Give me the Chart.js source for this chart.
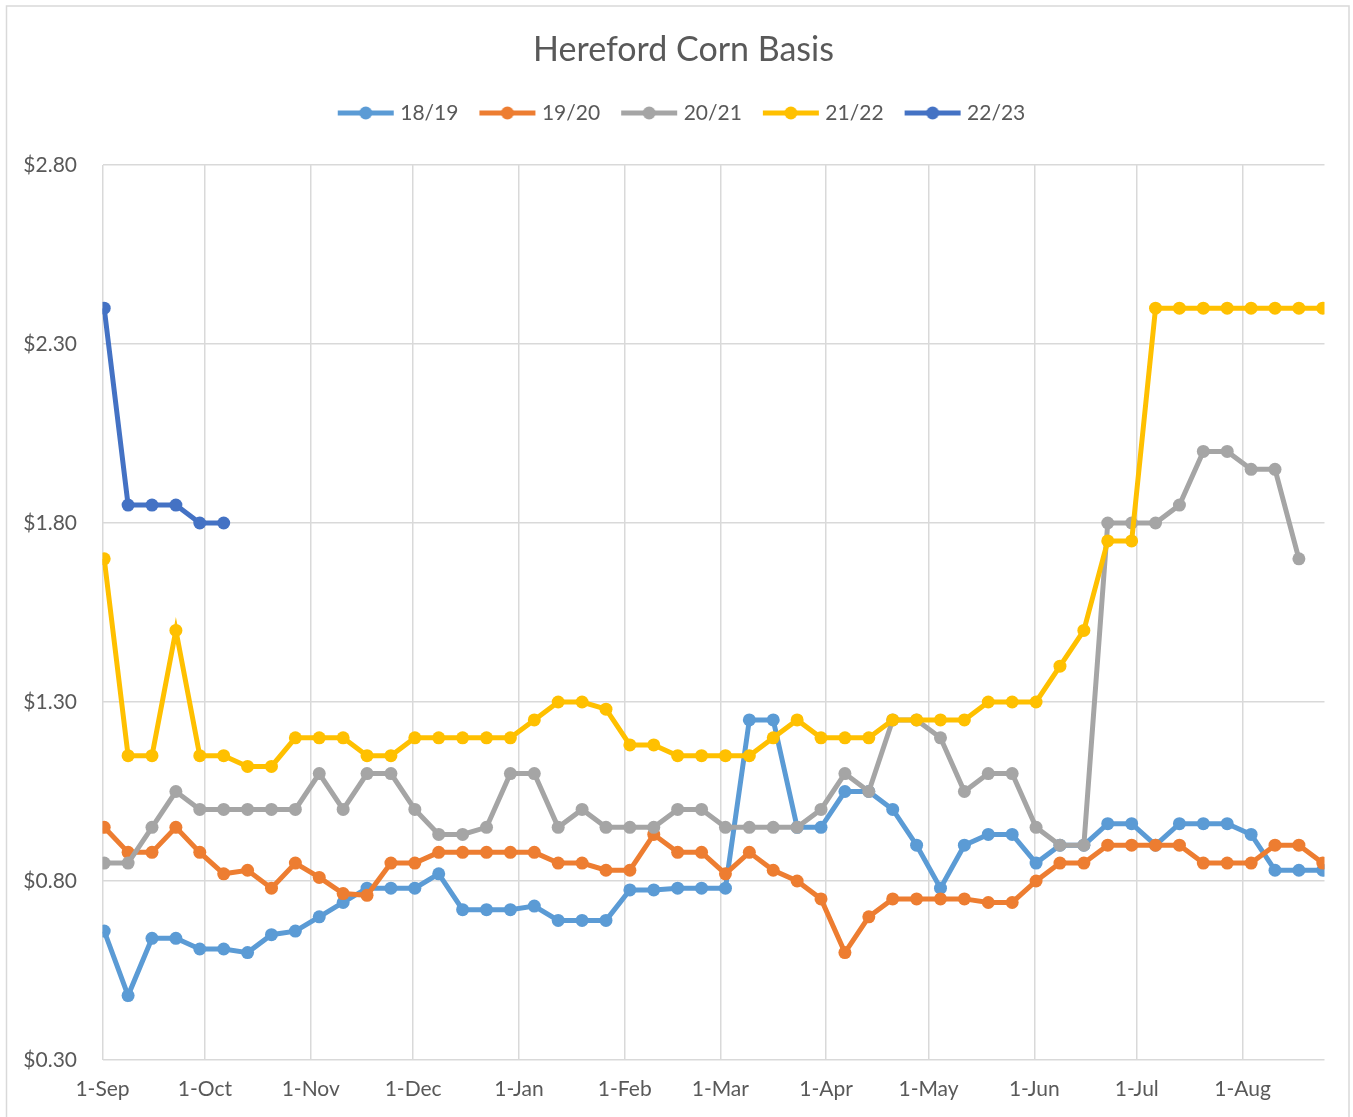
<!DOCTYPE html>
<html>
<head>
<meta charset="utf-8">
<title>Hereford Corn Basis</title>
<script src="https://cdn.jsdelivr.net/npm/chart.js@4.4.0/dist/chart.umd.min.js"></script>
<style>
  html, body { margin: 0; padding: 0; background: #fff; }
  #wrap { width: 1353px; height: 1117px; }
</style>
</head>
<body>
<div id="wrap"><canvas id="basisChart" width="1353" height="1117"></canvas></div>
<script>
// weekly price dates, same calendar for every marketing year
const weeks = ['1-Sep','8-Sep','15-Sep','22-Sep','29-Sep','6-Oct','13-Oct','20-Oct','27-Oct',
  '3-Nov','10-Nov','17-Nov','24-Nov','1-Dec','8-Dec','15-Dec','22-Dec','29-Dec',
  '5-Jan','12-Jan','19-Jan','26-Jan','2-Feb','9-Feb','16-Feb','23-Feb',
  '2-Mar','9-Mar','16-Mar','23-Mar','30-Mar','6-Apr','13-Apr','20-Apr','27-Apr',
  '4-May','11-May','18-May','25-May','1-Jun','8-Jun','15-Jun','22-Jun','29-Jun',
  '6-Jul','13-Jul','20-Jul','27-Jul','3-Aug','10-Aug','17-Aug','24-Aug'];
const monthTicks = ['1-Sep','1-Oct','1-Nov','1-Dec','1-Jan','1-Feb','1-Mar','1-Apr','1-May','1-Jun','1-Jul','1-Aug'];
const yTicks = [0.30, 0.80, 1.30, 1.80, 2.30, 2.80];

const seasons = ['18/19', '19/20', '20/21', '21/22', '22/23'];
const colors = ['#5B9BD5', '#ED7D31', '#A5A5A5', '#FFC000', '#4472C4'];

const s1819 = [0.66,0.48,0.64,0.64,0.61,0.61,0.60,0.65,0.66,0.70,0.74,0.78,0.78,0.78,0.82,0.72,0.72,0.72,
  0.73,0.69,0.69,0.69,0.775,0.775,0.78,0.78,0.78,1.25,1.25,0.95,0.95,1.05,1.05,1.00,0.90,0.78,
  0.90,0.93,0.93,0.85,0.90,0.90,0.96,0.96,0.90,0.96,0.96,0.96,0.93,0.83,0.83,0.83];
const s1920 = [0.95,0.88,0.88,0.95,0.88,0.82,0.83,0.78,0.85,0.81,0.765,0.76,0.85,0.85,0.88,0.88,0.88,0.88,
  0.88,0.85,0.85,0.83,0.83,0.93,0.88,0.88,0.82,0.88,0.83,0.80,0.75,0.60,0.70,0.75,0.75,0.75,
  0.75,0.74,0.74,0.80,0.85,0.85,0.90,0.90,0.90,0.90,0.85,0.85,0.85,0.90,0.90,0.85];
const s2021 = [0.85,0.85,0.95,1.05,1.00,1.00,1.00,1.00,1.00,1.10,1.00,1.10,1.10,1.00,0.93,0.93,0.95,1.10,
  1.10,0.95,1.00,0.95,0.95,0.95,1.00,1.00,0.95,0.95,0.95,0.95,1.00,1.10,1.05,1.25,1.25,1.20,
  1.05,1.10,1.10,0.95,0.90,0.90,1.80,1.80,1.80,1.85,2.00,2.00,1.95,1.95,1.70,null];
const s2122 = [1.70,1.15,1.15,1.50,1.15,1.15,1.12,1.12,1.20,1.20,1.20,1.15,1.15,1.20,1.20,1.20,1.20,1.20,
  1.25,1.30,1.30,1.28,1.18,1.18,1.15,1.15,1.15,1.15,1.20,1.25,1.20,1.20,1.20,1.25,1.25,1.25,
  1.25,1.30,1.30,1.30,1.40,1.50,1.75,1.75,2.40,2.40,2.40,2.40,2.40,2.40,2.40,2.40];
const s2223 = [2.40,1.85,1.85,1.85,1.80,1.80];

const seriesValues = [s1819, s1920, s2021, s2122, s2223];

// day count from 1-Sep (Excel date axis, points sit in the middle of their day)
const monthLen = {Sep: 30, Oct: 31, Nov: 30, Dec: 31, Jan: 31, Feb: 28, Mar: 31, Apr: 30, May: 31, Jun: 30, Jul: 31, Aug: 31};
function dayOf(label) {
  let [d, m] = label.split('-');
  let n = 0;
  for (let k of Object.keys(monthLen)) {
    if (k === m) break;
    n += monthLen[k];
  }
  return n + Number(d) - 1;
}

function legendMark(color) {
  let c = document.createElement('canvas');
  c.width = 58; c.height = 14;
  let g = c.getContext('2d');
  g.strokeStyle = color;
  g.lineWidth = 5;
  g.beginPath(); g.moveTo(1, 7); g.lineTo(57, 7); g.stroke();
  g.fillStyle = color;
  g.beginPath(); g.arc(29, 7, 6.5, 0, Math.PI * 2); g.fill();
  return c;
}

let datasets = seasons.map((name, i) => ({
  label: name,
  data: seriesValues[i].map((v, j) => ({x: dayOf(weeks[j]) + 0.5, y: v})),
  borderColor: colors[i],
  backgroundColor: colors[i],
  pointBackgroundColor: colors[i],
  pointBorderColor: colors[i],
  borderWidth: 5,
  pointRadius: 6.5,
  pointBorderWidth: 0,
  tension: 0,
  order: seasons.length - i
}));

// room between legend and plot
const legendGap = {
  id: 'legendGap',
  beforeLayout(chart) {
    let lg = chart.legend;
    if (lg && !lg._gapDone) {
      let fit = lg.fit;
      lg.fit = function () { fit.call(this); this.height += 31.5; };
      lg._gapDone = true;
    }
  }
};

const frame = {
  id: 'frame',
  beforeDraw(chart) {
    let ctx = chart.ctx;
    ctx.save();
    ctx.fillStyle = '#fff';
    ctx.fillRect(0, 0, chart.width, chart.height);
    ctx.strokeStyle = '#D9D9D9';
    ctx.lineWidth = 1.5;
    ctx.strokeRect(6.5, 6, 1342.5, 1125);
    ctx.restore();
  }
};

Chart.defaults.font.family = 'Lato';
Chart.defaults.font.size = 21;
Chart.defaults.color = '#595959';

let basisChart = new Chart(document.getElementById('basisChart'), {
  type: 'line',
  data: {datasets: datasets},
  options: {
    responsive: false,
    animation: false,
    devicePixelRatio: 1,
    layout: {padding: {left: 14, right: 0, top: 0, bottom: 0}},
    plugins: {
      title: {
        display: true,
        text: 'Hereford Corn Basis',
        font: {size: 34, weight: 'normal'},
        color: '#595959',
        padding: {top: 29.6, bottom: 7.1}
      },
      legend: {
        position: 'top',
        labels: {
          usePointStyle: true,
          pointStyleWidth: 48,
          padding: 25,
          color: '#595959',
          font: {size: 21},
          sort: (a, b) => a.datasetIndex - b.datasetIndex,
          generateLabels(chart) {
            let items = Chart.defaults.plugins.legend.labels.generateLabels(chart);
            items.forEach(it => { it.pointStyle = legendMark(colors[it.datasetIndex]); });
            return items;
          }
        }
      },
      tooltip: {enabled: false}
    },
    scales: {
      x: {
        type: 'linear',
        min: 0,
        max: 358,
        afterBuildTicks(scale) {
          scale.ticks = monthTicks.map(m => ({value: dayOf(m)}));
        },
        afterFit(scale) { scale.height = 57; },
        ticks: {
          autoSkip: false,
          maxRotation: 0,
          padding: 17,
          callback: (v, i) => monthTicks[i]
        },
        grid: {color: '#D9D9D9', lineWidth: 1.5, drawTicks: false},
        border: {display: false}
      },
      y: {
        min: 0.30,
        max: 2.80,
        afterBuildTicks(scale) {
          scale.ticks = yTicks.map(v => ({value: v}));
        },
        afterFit(scale) { scale.width = 88.5; },
        ticks: {
          padding: 25.5,
          callback: v => '$' + v.toFixed(2)
        },
        grid: {color: '#D9D9D9', lineWidth: 1.5, drawTicks: false},
        border: {display: false}
      },
      // empty strip on the right, as in the source plot
      yRight: {
        position: 'right',
        min: 0.30,
        max: 2.80,
        ticks: {display: false},
        grid: {display: false},
        border: {display: false},
        afterFit(scale) { scale.width = 28.5; }
      }
    }
  },
  plugins: [legendGap, frame]
});
</script>
</body>
</html>
